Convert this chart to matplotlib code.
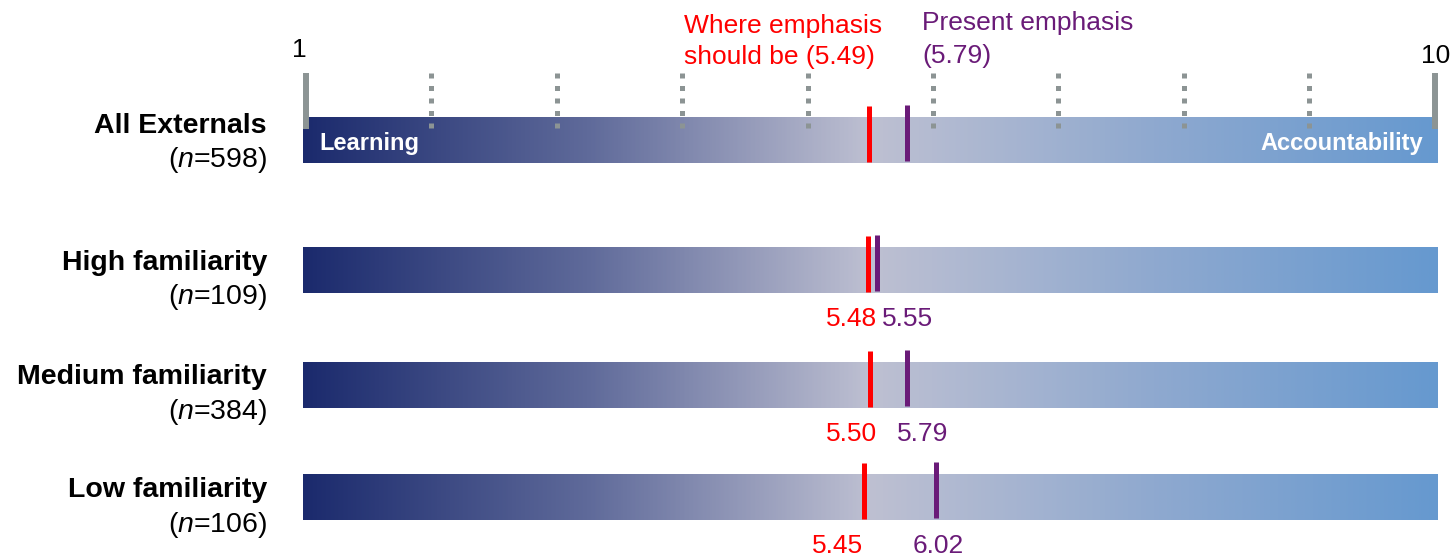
import matplotlib.pyplot as plt
import numpy as np
from matplotlib.colors import LinearSegmentedColormap

groups = ["All Externals", "High familiarity", "Medium familiarity", "Low familiarity"]
sizes = [598, 109, 384, 106]
should_be = [5.49, 5.48, 5.50, 5.45]
present = [5.79, 5.55, 5.79, 6.02]
scale_ticks = [1, 2, 3, 4, 5, 6, 7, 8, 9, 10]

plt.rcParams['font.family'] = ['Liberation Sans', 'DejaVu Sans']
plt.rcParams['mathtext.fontset'] = 'custom'
plt.rcParams['mathtext.rm'] = 'Liberation Sans'
plt.rcParams['mathtext.it'] = 'Liberation Sans:italic'

RED = '#ff0000'
PURPLE = '#6a1b78'
TICK_GREY = '#8c9494'

#canvas works in pixels vertically; horizontally 1 sits at 306 px and one step is 125.4 px
UNIT = 125.4
X0 = 306

def to_x(px):
	return 1 + (px - X0) / UNIT

def shift(x, px):
	return x + px / UNIT

bar_tops = [117, 247, 362, 474]
bar_h = 46
label_base = [(16, 50), (23, 57), (22, 57), (23, 58)]
#nudges (px) so the value labels under the bars don't crowd each other
should_shift = [0, 4, 2, -6]
present_shift = [0, 31, 16, 3]

fig = plt.figure(figsize=(14.55, 5.55), dpi=100)
ax = fig.add_axes([0, 0, 1, 1])
ax.axis('off')

cmap = LinearSegmentedColormap.from_list('learn_acc', [
	(0.0, '#1b2a6d'), (0.25, '#5f6a9a'), (0.5, '#bec0d2'), (0.75, '#8fa9cf'), (1.0, '#6699cf')])
grad = np.linspace(0, 1, 512).reshape(1, -1)
bar_left, bar_right = to_x(303), to_x(1438)

for i, top in enumerate(bar_tops):
	ax.imshow(grad, cmap=cmap, aspect='auto', interpolation='bilinear',
			  extent=(bar_left, bar_right, top + bar_h, top), zorder=1)

	#group name and sample size to the left of each bar
	b1, b2 = label_base[i]
	ax.text(to_x(267), top + b1, groups[i], ha='right', va='baseline',
			fontsize=20.5, fontweight='bold', color='black')
	ax.text(to_x(267), top + b2, '($\\mathit{n}$=%d)' % sizes[i], ha='right', va='baseline',
			fontsize=20.5, color='black')

	#where emphasis should be vs. present emphasis
	ax.plot([should_be[i]] * 2, [top - 11, top + bar_h - 1], color=RED, lw=3.6,
			solid_capstyle='butt', zorder=4)
	ax.plot([present[i]] * 2, [top - 12, top + bar_h - 2], color=PURPLE, lw=3.6,
			solid_capstyle='butt', zorder=4)

	if i > 0:
		ax.text(shift(should_be[i], 5 + should_shift[i]), top + bar_h + 33, '%.2f' % should_be[i],
				ha='right', va='baseline', fontsize=19, color=RED)
		ax.text(shift(present[i], present_shift[i]), top + bar_h + 33, '%.2f' % present[i],
				ha='center', va='baseline', fontsize=19, color=PURPLE)

#scale ticks over the first bar
top0 = bar_tops[0]
for t in scale_ticks:
	if t in (scale_ticks[0], scale_ticks[-1]):
		ax.plot([t, t], [73, 129], color=TICK_GREY, lw=4.3, solid_capstyle='butt', zorder=3)
	else:
		ax.plot([t, t], [73, 129], color=TICK_GREY, lw=3.6, linestyle=(0, (1, 1.5)),
				dash_capstyle='butt', zorder=3)
ax.text(shift(scale_ticks[0], -7), 57, str(scale_ticks[0]), ha='center', va='baseline', fontsize=19)
ax.text(shift(scale_ticks[-1], 1), 63, str(scale_ticks[-1]), ha='center', va='baseline', fontsize=19)

ax.text(to_x(319), top0 + 33, 'Learning', ha='left', va='baseline',
		fontsize=17, fontweight='bold', color='white', zorder=5)
ax.text(to_x(1423), top0 + 33, 'Accountability', ha='right', va='baseline',
		fontsize=17, fontweight='bold', color='white', zorder=5)

#headings for the two markers
ax.text(to_x(684), 33, 'Where emphasis', ha='left', va='baseline', fontsize=19, color=RED)
ax.text(to_x(684), 64, 'should be (%.2f)' % should_be[0], ha='left', va='baseline', fontsize=19, color=RED)
ax.text(to_x(922), 30, 'Present emphasis', ha='left', va='baseline', fontsize=19, color=PURPLE)
ax.text(to_x(922), 63, '(%.2f)' % present[0], ha='left', va='baseline', fontsize=19, color=PURPLE)

ax.set_xlim(to_x(0), to_x(1455))
ax.set_ylim(555, 0)

fig.savefig('out.png', dpi=100)
